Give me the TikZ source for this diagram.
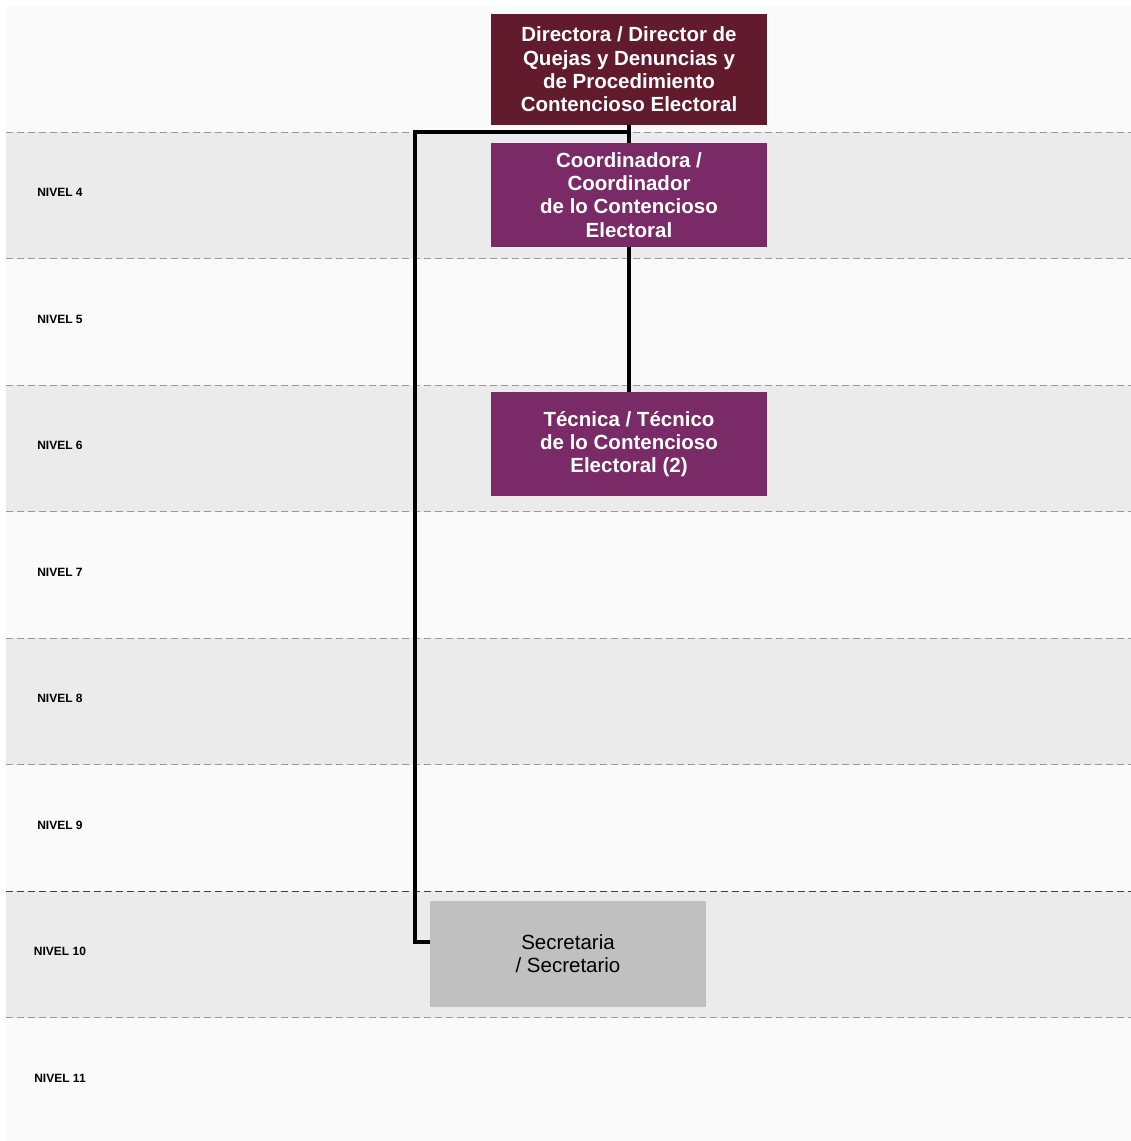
\documentclass[tikz,border=0pt]{standalone}
\usepackage{fontspec}
\setmainfont{Liberation Sans}
\definecolor{dirred}{HTML}{621A2D}
\definecolor{coordpurple}{HTML}{7A2A66}
\definecolor{secgray}{HTML}{C0C0C0}
\definecolor{rowlight}{HTML}{FAFAFA}
\definecolor{rowdark}{HTML}{EBEBEB}
\definecolor{dashgray}{HTML}{9A9A9A}
\begin{document}
\begin{tikzpicture}[x=1pt, y=-1pt,
    puesto/.style={minimum width=276pt, inner sep=0pt, align=center, text=white,
        font=\fontsize{20.5}{23.3}\selectfont\bfseries},
    nivel/.style={font=\fontsize{12}{14}\selectfont\bfseries, inner sep=0pt},
    corte/.style={line width=1pt, dash pattern=on 7pt off 4pt},
    linea/.style={line width=4pt, line join=miter}]
                \useasboundingbox (0,0) rectangle (1131,1141);
                \fill [rowlight] (6,6) rectangle (1131,1141);
                \foreach \i in {1,3,5,7}
                    \fill [rowdark] (6,132+126.5*\i-126.5) rectangle (1131,132+126.5*\i);
                \foreach \i in {0,...,7}
                    \draw [corte, dashgray] (6,132+126.5*\i) -- (1131,132+126.5*\i);
                \draw [corte, black!75] (6,891) -- (1131,891);
                \foreach \n [count=\i] in {4,...,11}
                    \node [nivel] (n\n) at (60,129.5+126.5*\i-63.25) {NIVEL \n};
                \node [puesto, fill=dirred, minimum height=111pt] (0) at (629,69.5) {Directora / Director de\\Quejas y Denuncias y\\de Procedimiento\\Contencioso Electoral};
                \node [puesto, fill=coordpurple, minimum height=104pt] (1) at (629,195) {Coordinadora /\\Coordinador\\de lo Contencioso\\Electoral};
                \node [puesto, fill=coordpurple, minimum height=104pt] (2) at (629,444) {Técnica / Técnico\\de lo Contencioso\\Electoral (2)};
                \node [puesto, fill=secgray, minimum height=106pt, text=black, font=\fontsize{20.5}{23.3}\selectfont] (3) at (568,954) {Secretaria\\/ Secretario};
                \coordinate (4) at (415,132);
                \coordinate (5) at (415,942);
                \draw [linea] (0.south) -- (1.north);
                \draw [linea] (1.south) -- (2.north);
                \draw [linea] (0.south |- 4) -- (4) -- (5) -- (5 -| 3.west);
\end{tikzpicture}
\end{document}
